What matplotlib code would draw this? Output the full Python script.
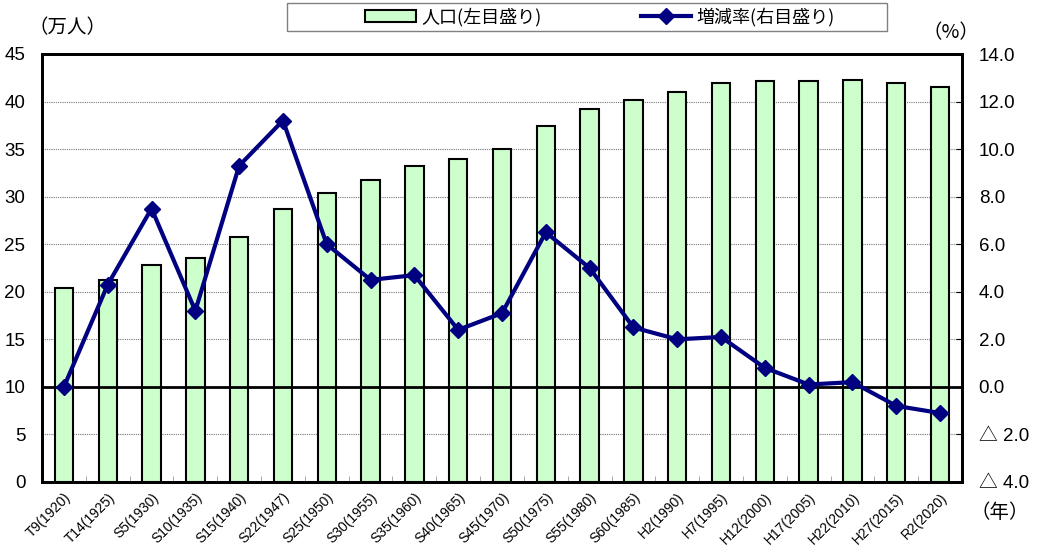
import matplotlib.pyplot as plt
from matplotlib.lines import Line2D
from matplotlib.patches import Patch, Rectangle

plt.rcParams['font.family'] = ['Liberation Sans', 'Noto Sans CJK JP']
jp = ['Noto Sans CJK JP', 'DejaVu Sans']

labels = ['T9(1920)', 'T14(1925)', 'S5(1930)', 'S10(1935)', 'S15(1940)', 'S22(1947)',
          'S25(1950)', 'S30(1955)', 'S35(1960)', 'S40(1965)', 'S45(1970)', 'S50(1975)',
          'S55(1980)', 'S60(1985)', 'H2(1990)', 'H7(1995)', 'H12(2000)', 'H17(2005)',
          'H22(2010)', 'H27(2015)', 'R2(2020)']
population = [20.4, 21.2, 22.8, 23.6, 25.8, 28.7, 30.4, 31.7, 33.2, 34.0, 35.0, 37.4,
              39.2, 40.2, 41.0, 41.9, 42.2, 42.2, 42.3, 42.0, 41.5]
rate = [0.0, 4.3, 7.5, 3.2, 9.3, 11.2, 6.0, 4.5, 4.7, 2.4, 3.1, 6.5,
        5.0, 2.5, 2.0, 2.1, 0.8, 0.1, 0.2, -0.8, -1.1]
right_ticks = [-4, -2, 0, 2, 4, 6, 8, 10, 12, 14]
right_labels = ['△ 4.0', '△ 2.0', '0.0', '2.0', '4.0', '6.0', '8.0', '10.0', '12.0', '14.0']

fig = plt.figure(figsize=(10.38, 5.52), dpi=100)
ax = fig.add_axes([42/1038, 1-482/552, 920/1038, 428/552])
x = list(range(len(labels)))

ax.bar(x, population, width=0.42, color='#ccffcc', edgecolor='black', linewidth=1.5, zorder=2)
ax.set_xlim(-0.5, len(labels)-0.5)
ax.set_ylim(0, 45)
ax.set_yticks(range(0, 46, 5))
ax.yaxis.grid(True, linestyle=(0, (1, 1)), color='#777777', linewidth=0.8, zorder=0)
ax.set_axisbelow(True)
ax.set_xticks([i + 0.5 for i in x[:-1]], minor=True)
ax.set_xticks(x)
ax.set_xticklabels(labels, rotation=45, ha='right', rotation_mode='anchor', fontsize=10)
ax.tick_params(axis='x', which='major', length=0, pad=6)
ax.tick_params(axis='x', which='minor', direction='in', length=4, color='#999999')
ax.tick_params(axis='y', direction='in', length=0, labelsize=13.5, pad=12)
for s in ax.spines.values():
    s.set_linewidth(2)

ax2 = ax.twinx()
ax2.set_ylim(-4, 14)
ax2.set_yticks(right_ticks)
ax2.set_yticklabels(right_labels)
ax2.tick_params(axis='y', direction='in', length=4, labelsize=13.5, pad=12)
ax2.axhline(0, color='black', linewidth=2, zorder=3)
ax2.plot(x, rate, color='#000080', linewidth=3, marker='D', markersize=8, zorder=4)
for s in ax2.spines.values():
    s.set_linewidth(2)

fig.text(28/1038, 1-28/552, '（万人）', fontsize=14, va='center', ha='left', family=jp)
fig.text(922/1038, 1-33/552, '（%）', fontsize=14, va='center', ha='left', family=jp)
fig.text(970/1038, 1-512/552, '（年）', fontsize=14, va='center', ha='left', family=jp)

fig.patches.append(Rectangle((287/1038, 1-31/552), 600/1038, 28/552, transform=fig.transFigure,
                             facecolor='white', edgecolor='#808080', linewidth=1, zorder=1))
handles = [Patch(facecolor='#ccffcc', edgecolor='black', linewidth=1.5),
           Line2D([], [], color='#000080', linewidth=3, marker='D', markersize=8)]
leg = fig.legend(handles, ['人口(左目盛り)', '増減率(右目盛り)'], loc='center',
                 bbox_to_anchor=(600/1038, 1-17/552), ncol=2, frameon=False,
                 prop={'family': jp, 'size': 13}, columnspacing=5.5, handlelength=2.8,
                 handleheight=0.6, handletextpad=0.3, borderpad=0, borderaxespad=0)
leg.set_zorder(2)

fig.savefig('out.png', dpi=100)
